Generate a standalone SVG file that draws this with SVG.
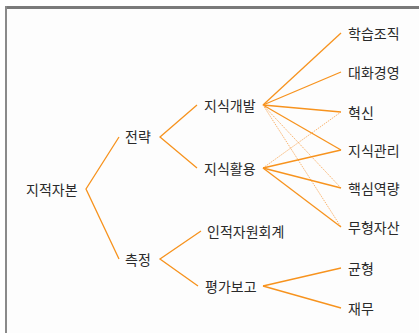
<svg xmlns="http://www.w3.org/2000/svg" width="419" height="333" viewBox="0 0 419 333">
<style>
text{font-family:"Noto Sans CJK KR","Noto Sans",sans-serif;font-size:14px;fill:#2a2a2a;dominant-baseline:central}
.l{stroke:#f7931e;stroke-width:1.3;fill:none}
.t{stroke:#f7a24e;stroke-width:0.8;fill:none;stroke-dasharray:1.5 1}
</style>
<rect x="0" y="0" width="419" height="333" fill="#ffffff"/>
<rect x="6" y="8" width="413" height="325" fill="#fdfdfd"/>
<line x1="5" y1="7.5" x2="419" y2="7.5" stroke="#7a7a7a" stroke-width="3"/>
<line x1="6" y1="6" x2="6" y2="333" stroke="#8a8a8a" stroke-width="2"/>
<g id="connectors">
<polyline class="l" points="119,137 86,189 119,259"/>
<polyline class="l" points="197,105 160,137 197,168"/>
<polyline class="l" points="201,231 160,259 198,286"/>
<line class="l" x1="263" y1="105" x2="341" y2="33"/>
<line class="l" x1="263" y1="105" x2="341" y2="72"/>
<line class="l" x1="263" y1="105" x2="341" y2="112"/>
<line class="l" x1="263" y1="105" x2="341" y2="150"/>
<line class="t" x1="263" y1="105" x2="341" y2="188"/>
<line class="t" x1="263" y1="105" x2="341" y2="227"/>
<line class="t" x1="263" y1="168" x2="341" y2="112"/>
<line class="l" x1="263" y1="168" x2="341" y2="150"/>
<line class="l" x1="263" y1="168" x2="341" y2="188"/>
<line class="l" x1="263" y1="168" x2="341" y2="227"/>
<line class="l" x1="263" y1="286" x2="341" y2="268"/>
<line class="l" x1="263" y1="286" x2="341" y2="308"/>
</g>
<g id="n-root"><text x="26" y="189">지적자본</text></g>
<g id="n-strategy"><text x="125" y="136">전략</text></g>
<g id="n-measure"><text x="125" y="259">측정</text></g>
<g id="n-dev"><text x="204" y="105">지식개발</text></g>
<g id="n-use"><text x="204" y="168">지식활용</text></g>
<g id="n-hr"><text x="207" y="231">인적자원회계</text></g>
<g id="n-report"><text x="205" y="286">평가보고</text></g>
<g id="n-learn"><text x="348" y="33">학습조직</text></g>
<g id="n-dialog"><text x="348" y="72">대화경영</text></g>
<g id="n-innov"><text x="348" y="112">혁신</text></g>
<g id="n-km"><text x="348" y="150">지식관리</text></g>
<g id="n-core"><text x="348" y="188">핵심역량</text></g>
<g id="n-intang"><text x="348" y="227">무형자산</text></g>
<g id="n-balance"><text x="348" y="268">균형</text></g>
<g id="n-finance"><text x="348" y="308">재무</text></g>
</svg>
